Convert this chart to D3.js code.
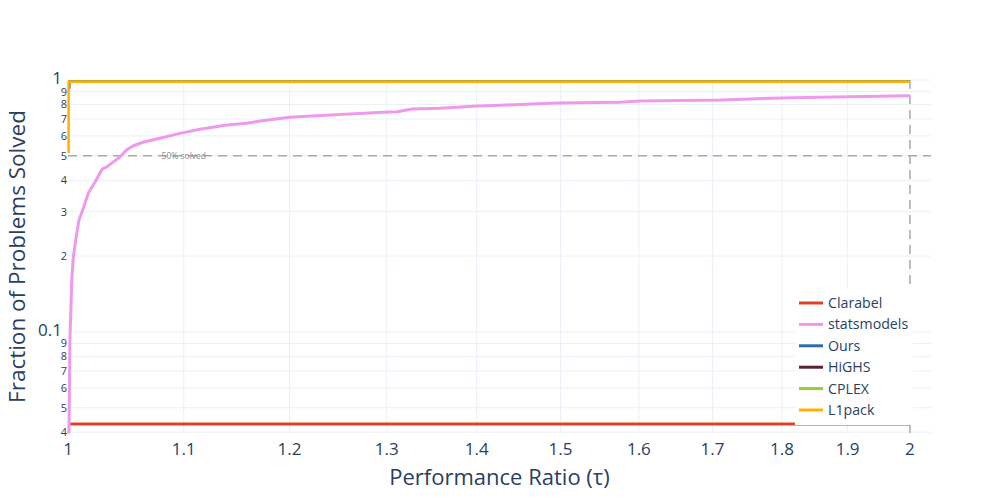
<!DOCTYPE html>
<html><head><meta charset="utf-8">
<script src="https://cdn.jsdelivr.net/npm/d3@7"></script>
<style>body{margin:0;background:#fff;} svg{font-family:"Open Sans",verdana,arial,sans-serif;}</style>
</head><body><svg id="c" width="996" height="498"></svg>
<script>
// ---- data ----
const seriesNames = ["Clarabel", "statsmodels", "Ours", "HiGHS", "CPLEX", "L1pack"];
const clarabelTau = [1, 2];
const clarabelFrac = [0.0431, 0.0431];
const statsmodelsTau = [1.0, 1.0008, 1.0016, 1.0031, 1.0044, 1.0064, 1.0091, 1.0127, 1.0169, 1.0225, 1.0286, 1.0324, 1.038, 1.0437, 1.0495, 1.0549, 1.0636, 1.0786, 1.0965, 1.1149, 1.1396, 1.1585, 1.1714, 1.2003, 1.227, 1.2613, 1.2964, 1.3114, 1.3277, 1.3587, 1.3958, 1.435, 1.4953, 1.5752, 1.6014, 1.7111, 1.7818, 1.8569, 2.0];
const statsmodelsFrac = [0.0397, 0.0401, 0.093, 0.161, 0.198, 0.232, 0.278, 0.31, 0.356, 0.394, 0.443, 0.452, 0.473, 0.495, 0.528, 0.547, 0.566, 0.587, 0.614, 0.637, 0.663, 0.673, 0.688, 0.711, 0.722, 0.733, 0.744, 0.748, 0.767, 0.772, 0.786, 0.796, 0.81, 0.816, 0.826, 0.833, 0.846, 0.854, 0.866];
const oursTau = [1, 2];
const oursFrac = [0.984, 0.984];
const highsTau = [1, 1.001, 1.001, 2];
const highsFrac = [0.93, 0.93, 0.984, 0.984];
const cplexTau = [1, 2];
const cplexFrac = [0.984, 0.984];
const l1packTau = [1.0005, 1.0005, 2];
const l1packFrac = [0.513, 0.984, 0.984];
const xTicks = [1, 1.1, 1.2, 1.3, 1.4, 1.5, 1.6, 1.7, 1.8, 1.9, 2];
const xTickLabels = ["1", "1.1", "1.2", "1.3", "1.4", "1.5", "1.6", "1.7", "1.8", "1.9", "2"];
const yMajorTicks = [0.1, 1];
const yMajorLabels = ["0.1", "1"];
const yMinorTicks = [0.04, 0.05, 0.06, 0.07, 0.08, 0.09, 0.2, 0.3, 0.4, 0.5, 0.6, 0.7, 0.8, 0.9];
const yMinorLabels = ["4", "5", "6", "7", "8", "9", "2", "3", "4", "5", "6", "7", "8", "9"];
const refFrac = 0.5, refTau = 2, refLabel = "50% solved", refLabelTau = 1.1;
const xTitle = "Performance Ratio (τ)";
const yTitle = "Fraction of Problems Solved";

// ---- styles ----
const colors = ["#DC4428", "#EE99EE", "#2E6BA8", "#5B1F3A", "#9ACD32", "#FFB000"];
const widths = [3, 3, 2.5, 2.5, 2.5, 2.5];
const L = 68, R = 931, T = 80, B = 433;
const textColor = "#2a3f5f", gridColor = "#EBF0F8";

const svg = d3.select("#c");
const x = d3.scaleLog().domain([1, 2.035]).range([L, R]);
const y = d3.scaleLog().domain([0.0397, 1.0]).range([B, T]);

// grid
const g = svg.append("g");
g.selectAll(".gx").data(xTicks.filter(t => t > 1 && t < 2)).join("line")
  .attr("x1", d => x(d)).attr("x2", d => x(d)).attr("y1", T).attr("y2", B)
  .attr("stroke", gridColor).attr("stroke-width", 1);
g.selectAll(".gy").data(yMajorTicks.concat(yMinorTicks)).join("line")
  .attr("x1", L).attr("x2", R).attr("y1", d => y(d)).attr("y2", d => y(d))
  .attr("stroke", gridColor).attr("stroke-width", 1);

// reference lines
svg.append("line").attr("x1", L).attr("x2", R).attr("y1", y(refFrac)).attr("y2", y(refFrac))
  .attr("stroke", "#aaaaaa").attr("stroke-width", 1.5).attr("stroke-dasharray", "9,6");
svg.append("line").attr("x1", x(refTau)).attr("x2", x(refTau)).attr("y1", T).attr("y2", B)
  .attr("stroke", "#aaaaaa").attr("stroke-width", 1.5).attr("stroke-dasharray", "9,6");
svg.append("text").attr("x", x(refLabelTau)).attr("y", y(refFrac) + 3).attr("text-anchor", "middle")
  .attr("font-size", 8.5).attr("fill", "#888").text(refLabel);

// series
const series = [
  [clarabelTau, clarabelFrac], [statsmodelsTau, statsmodelsFrac], [oursTau, oursFrac],
  [highsTau, highsFrac], [cplexTau, cplexFrac], [l1packTau, l1packFrac]
];
const line = d3.line().x(d => x(d[0])).y(d => y(d[1]));
series.forEach((s, i) => {
  const pts = s[0].map((t, j) => [t, s[1][j]]);
  svg.append("path").attr("d", line(pts)).attr("fill", "none")
    .attr("stroke", colors[i]).attr("stroke-width", widths[i]).attr("stroke-linejoin", "round");
});

// x axis labels
svg.selectAll(".xl").data(xTicks).join("text")
  .attr("x", d => x(d)).attr("y", 455).attr("text-anchor", "middle")
  .attr("font-size", 17).attr("fill", textColor).text((d, i) => xTickLabels[i]);
// y axis labels
svg.selectAll(".ym").data(yMajorTicks).join("text")
  .attr("x", 62).attr("y", d => y(d) + 4).attr("text-anchor", "end")
  .attr("font-size", 17).attr("fill", textColor).text((d, i) => yMajorLabels[i]);
svg.selectAll(".yn").data(yMinorTicks).join("text")
  .attr("x", 67).attr("y", d => y(d) + 4).attr("text-anchor", "end")
  .attr("font-size", 11).attr("fill", textColor).text((d, i) => yMinorLabels[i]);

// titles
svg.append("text").attr("x", (L + R) / 2).attr("y", 485).attr("text-anchor", "middle")
  .attr("font-size", 22).attr("fill", textColor).text(xTitle);
svg.append("text").attr("transform", `translate(25,${(T + B) / 2}) rotate(-90)`).attr("text-anchor", "middle")
  .attr("font-size", 22.5).attr("fill", textColor).text(yTitle);

// legend
const lg = svg.append("g");
lg.append("rect").attr("x", 795).attr("y", 288).attr("width", 118).attr("height", 137).attr("fill", "#fff");
seriesNames.forEach((n, i) => {
  const yy = 303 + i * 21.4;
  lg.append("line").attr("x1", 799).attr("x2", 823).attr("y1", yy).attr("y2", yy)
    .attr("stroke", colors[i]).attr("stroke-width", 3);
  lg.append("text").attr("x", 828).attr("y", yy + 5).attr("font-size", 14.2).attr("fill", textColor).text(n);
});
</script></body></html>
